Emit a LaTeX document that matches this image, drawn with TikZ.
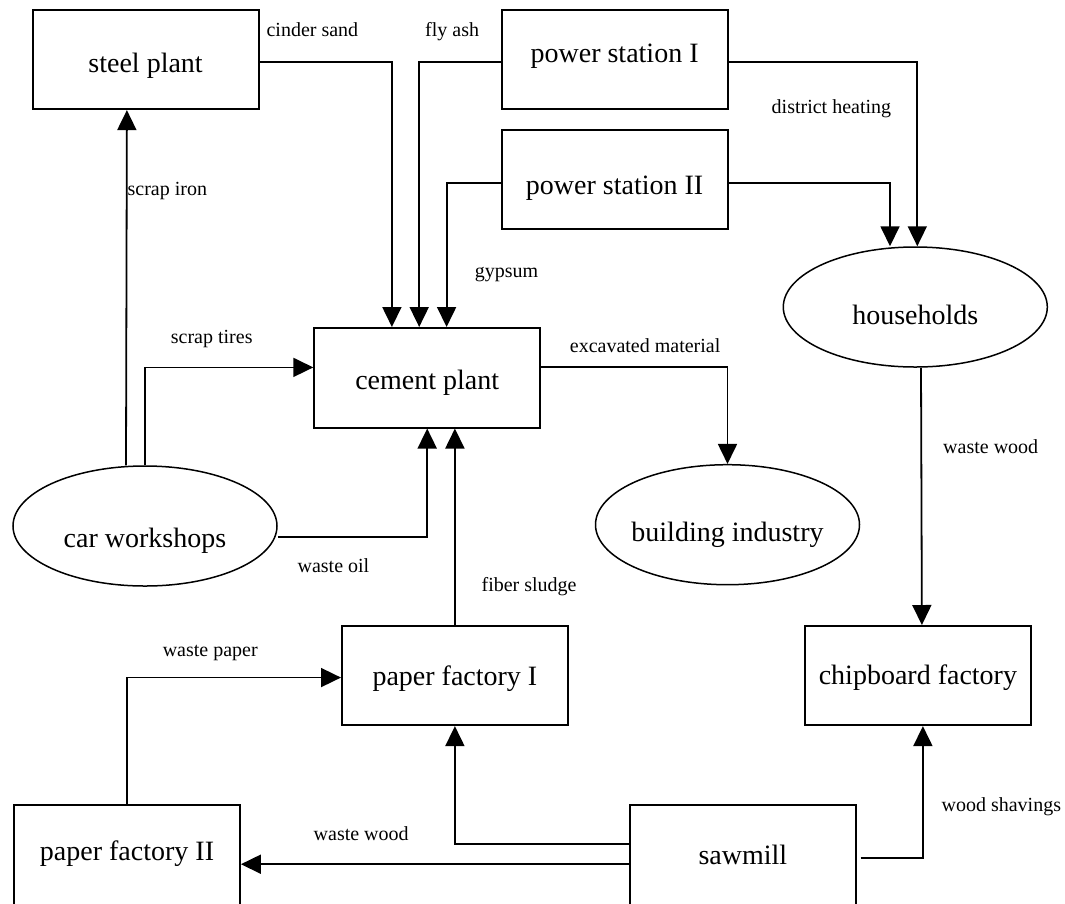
\documentclass[tikz,border=0pt]{standalone}
\usepackage{fontspec}
\setmainfont{Liberation Serif}
\usetikzlibrary{arrows.meta, shapes.geometric}

\begin{document}
\begin{tikzpicture}[x=1pt, y=-1pt,
  box/.style={draw, line width=1.8pt, anchor=north west, inner sep=0pt, minimum width=226pt, font=\fontsize{28}{32}\selectfont},
  ell/.style={draw, ellipse, line width=1.5pt, inner xsep=-12pt, inner ysep=0pt, text depth=0pt, minimum width=264pt, minimum height=120pt, font=\fontsize{28}{32}\selectfont},
  lbl/.style={anchor=base west, inner sep=0pt, font=\fontsize{20}{24}\selectfont},
  ar/.style={-{Triangle[length=20pt, width=19pt]}, line width=1.8pt}]
\useasboundingbox (0,0) rectangle (1065,903);
% plants and factories
\node[box, text height=62.7pt, text depth=36.6pt] (steel) at (31.7,9) {steel plant};
\node[box, text height=52.7pt, text depth=46.6pt] (ps1) at (500.7,9) {power station I};
\node[box, text height=65.3pt, text depth=34pt] (ps2) at (500.7,128.7) {power station II};
\node[box, text height=61.3pt, text depth=38.4pt] (cement) at (313.3,327) {cement plant};
\node[box, text height=60pt, text depth=39.3pt] (pf1) at (341,625) {paper factory I};
\node[box, text height=58.3pt, text depth=41pt] (chip) at (804,625) {chipboard factory};
\node[box, text height=56pt, text depth=52pt] (pf2) at (13.1,804) {paper factory II};
\node[box, text height=59.3pt, text depth=48.7pt] (saw) at (629,804) {sawmill};
% consumers
\node[ell, text height=42pt] (cars) at (145,526) {car workshops};
\node[ell, text height=34pt] (bind) at (727.5,524.7) {building industry};
\node[ell, text height=34.6pt] (house) at (915.3,307) {households};
% flows
\draw[ar] ([xshift=-19pt]cars.north) -- ([xshift=-18.7pt]steel.south)
  node[lbl] (tIron) at (126.7,195) {scrap iron};
\draw[ar] (cars.north) |- ([yshift=10.35pt]cement.west)
  node[lbl] (tTires) at (170,343.7) {scrap tires};
\draw[ar] ([yshift=-10.7pt]cars.east) -| (cement.south)
  node[lbl] (tOil) at (296.7,572.7) {waste oil};
\draw[ar] (pf1.north) -- ([xshift=27.7pt]cement.south)
  node[lbl] (tSludge) at (480.7,591) {fiber sludge};
\draw[ar] ([yshift=-2.05pt]steel.east) -| ([xshift=-35.3pt]cement.north)
  node[lbl] (tCinder) at (265.7,36) {cinder sand};
\draw[ar] ([yshift=-2.35pt]ps1.west) -| ([xshift=-8pt]cement.north)
  node[lbl] (tAsh) at (424.3,36) {fly ash};
\draw[ar] ([yshift=-3.95pt]ps2.west) -| ([xshift=19.4pt]cement.north)
  node[lbl] (tGyps) at (474,277.7) {gypsum};
\draw[ar] ([yshift=-2.35pt]ps1.east) -| ([xshift=2pt]house.north)
  node[lbl, anchor=base east] (tHeat) at (892,113.3) {district heating};
\draw[ar] ([yshift=-3.95pt]ps2.east) -| ([xshift=-25.3pt]house.north);
\draw[ar] ([yshift=10.5pt]cement.east) -| (bind.north)
  node[lbl] (tExc) at (569,352) {excavated material};
\draw[ar] ([xshift=5.7pt]house.south) -- ([xshift=4pt]chip.north)
  node[lbl] (tWood) at (942.3,453.3) {waste wood};
\draw[ar] (pf2.north) |- ([yshift=-2pt]pf1.west)
  node[lbl] (tPaper) at (161.9,656.7) {waste paper};
\draw[ar] ([yshift=14.7pt]saw.west) -| (pf1.south);
\draw[ar] ([yshift=-5.3pt]saw.west) -- ([yshift=-5.3pt]pf2.east)
  node[lbl] (tWood2) at (312.8,840) {waste wood};
\draw[ar] ([xshift=3.7pt, yshift=1.3pt]saw.east) -| ([xshift=5pt]chip.south)
  node[lbl] (tShav) at (940.7,811) {wood shavings};
\end{tikzpicture}
\end{document}
